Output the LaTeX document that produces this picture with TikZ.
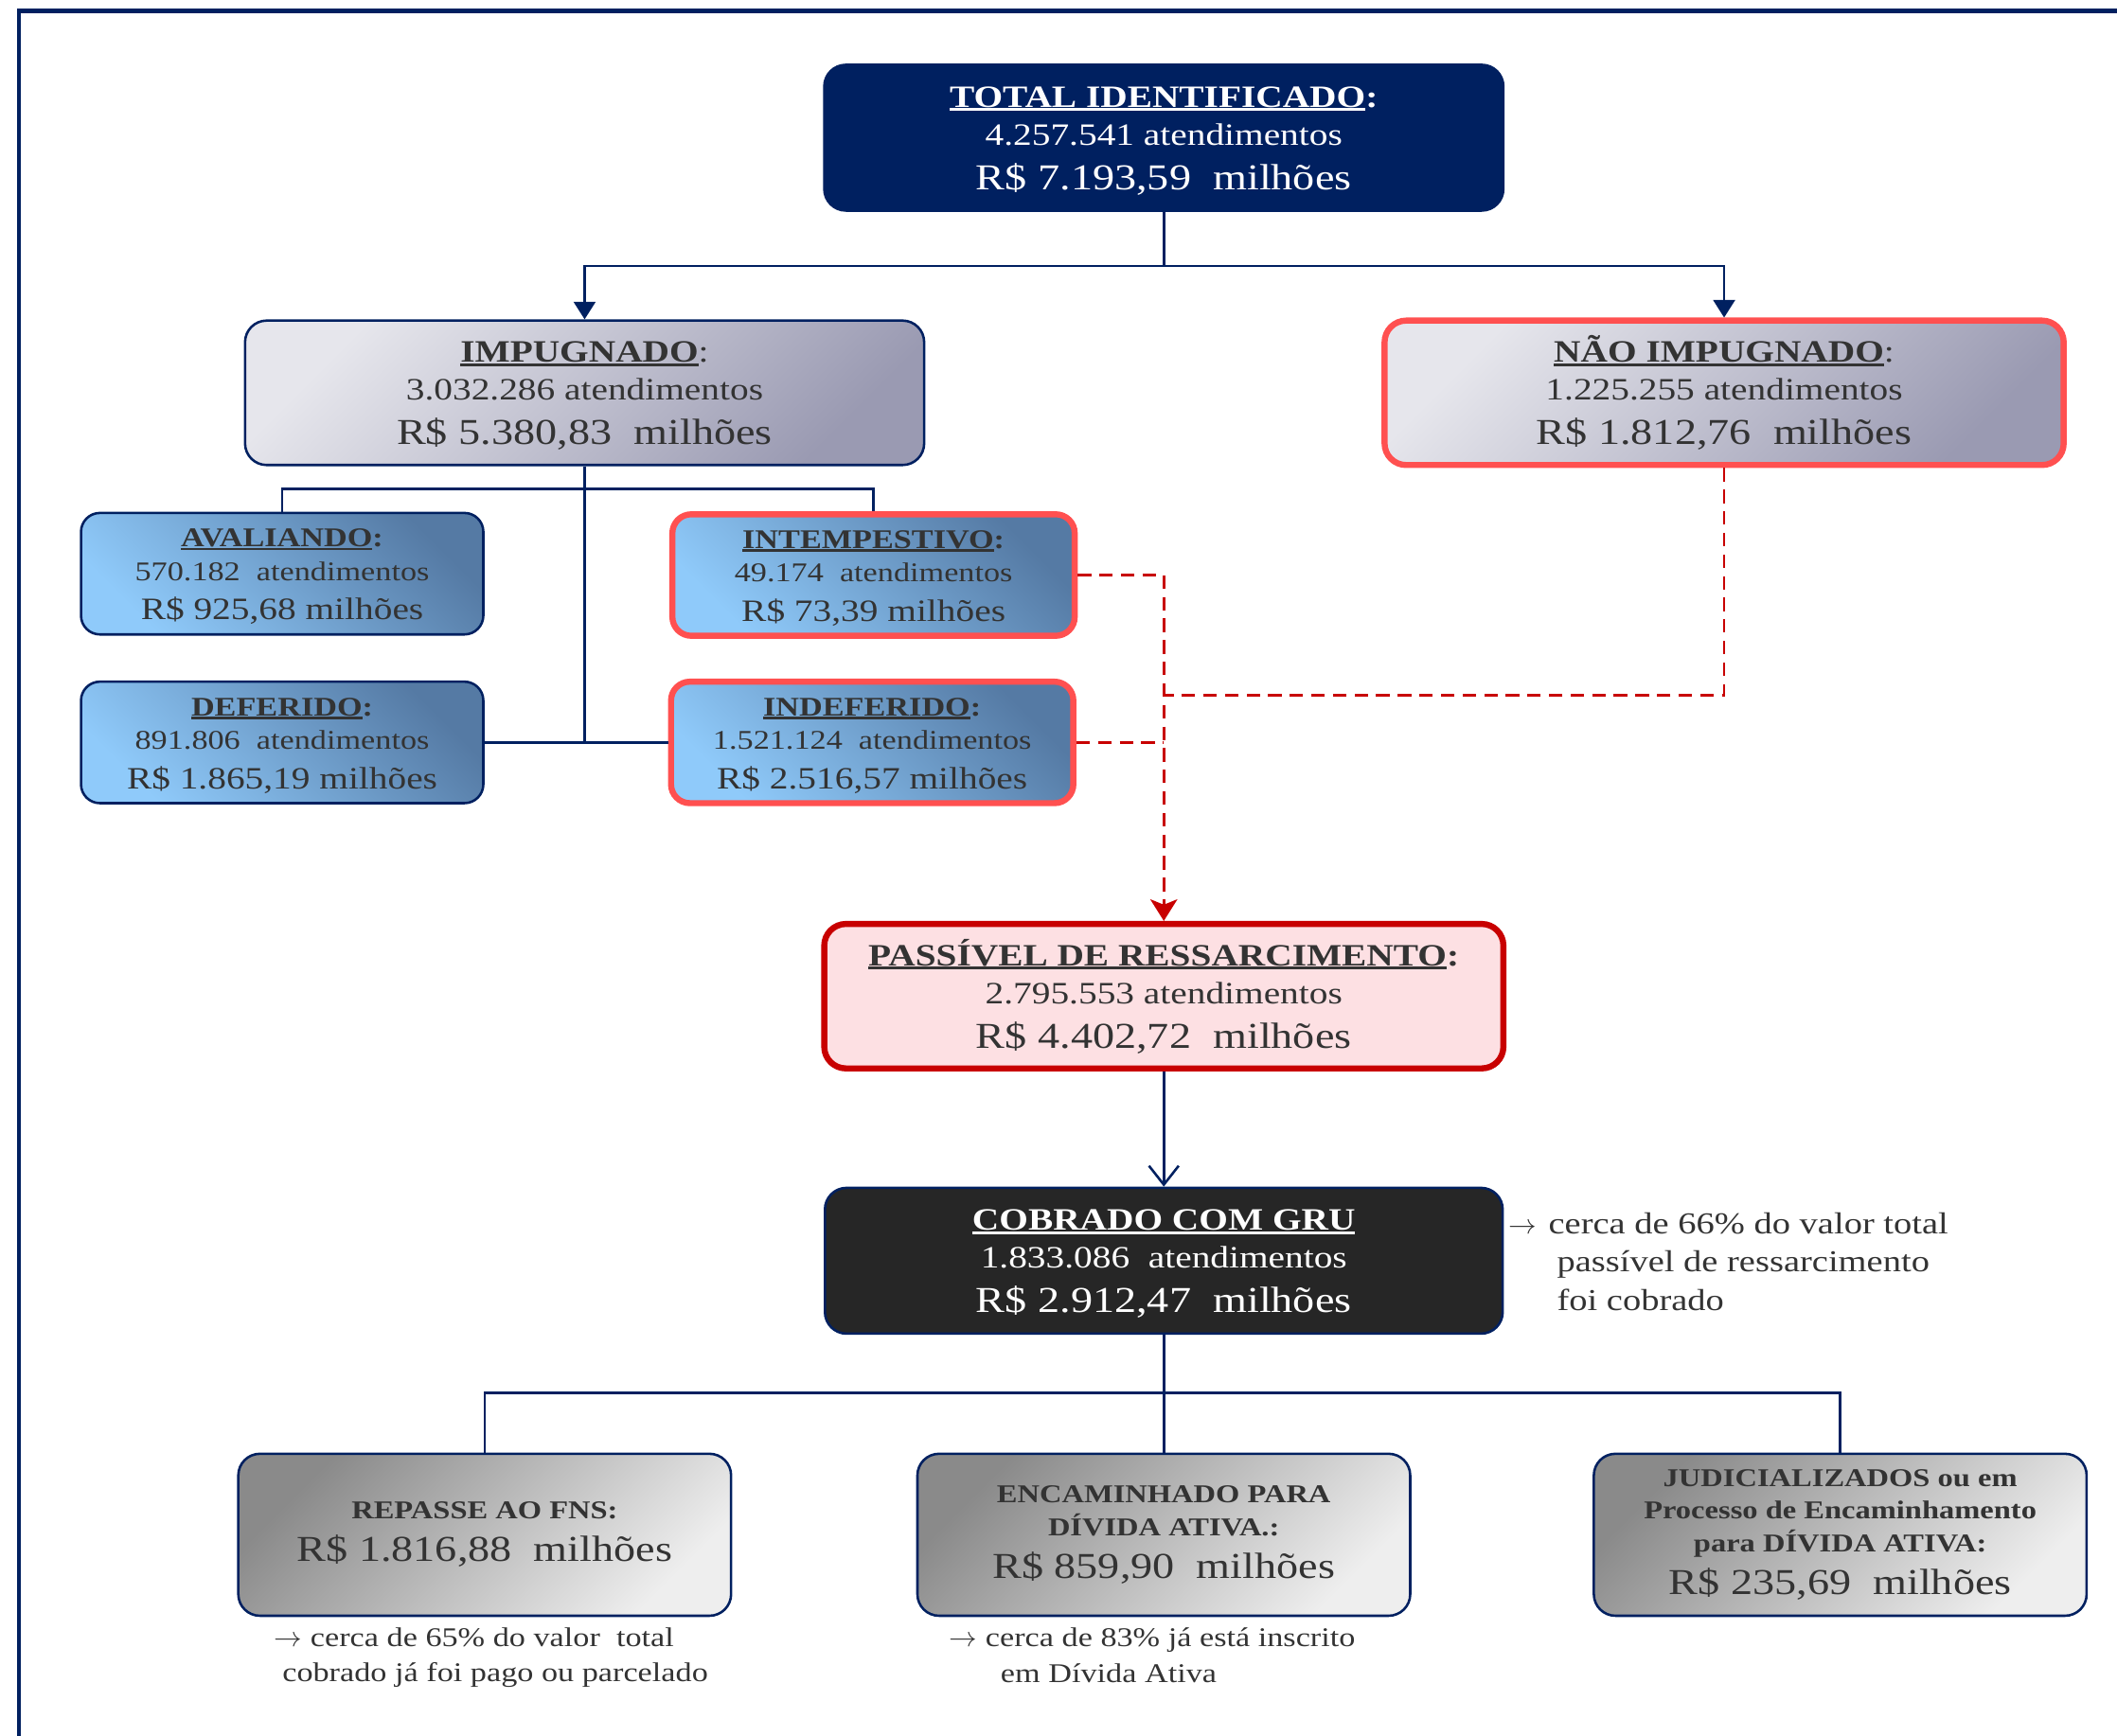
\documentclass[tikz,border=0pt]{standalone}
\usepackage{fontspec}
\setmainfont[FakeStretch=1.2]{Liberation Serif}
\usetikzlibrary{positioning,arrows.meta,shapes}
\definecolor{marinho}{HTML}{002060}
\definecolor{vermelho}{HTML}{FF5050}
\definecolor{vinho}{HTML}{C80000}
\definecolor{rosa}{HTML}{FDE0E3}
\definecolor{grafite}{HTML}{262626}
\definecolor{texto}{HTML}{333333}
\definecolor{pratac}{HTML}{E6E6EC}
\definecolor{pratae}{HTML}{9A9AB2}
\definecolor{azulc}{HTML}{8FCAFA}
\definecolor{azule}{HTML}{557AA4}
\definecolor{cinzac}{HTML}{EEEEEE}
\definecolor{cinzae}{HTML}{8A8A8A}
\newsavebox{\caixatit}
\newcommand{\sublinha}[1]{\sbox{\caixatit}{#1}\rlap{\rule[-0.12em]{\wd\caixatit}{0.085em}}\usebox{\caixatit}}
\newcommand{\vmaior}[1]{{\fontsize{27}{28}\selectfont #1}}
\newcommand{\vmedio}[1]{{\fontsize{23}{25}\selectfont #1}}
\newcommand{\seta}{$\rightarrow$}

\begin{document}
\begin{tikzpicture}[x=1pt,y=-1pt,
    caixa/.style={rounded corners=16pt,draw=marinho,line width=1.8pt,align=center,text=texto,inner sep=2pt},
    grande/.style={caixa,minimum width=503pt,minimum height=108pt,font=\fontsize{23}{28}\selectfont},
    pequena/.style={caixa,rounded corners=14pt,minimum width=298pt,minimum height=90pt,font=\fontsize{20}{25}\selectfont},
    base/.style={caixa,minimum width=365pt,minimum height=120pt,font=\fontsize{19}{24.5}\selectfont},
    prata/.style={top color=pratac,bottom color=pratae,shading angle=45},
    azul/.style={top color=azule,bottom color=azulc,shading angle=-45},
    cinza/.style={top color=cinzae,bottom color=cinzac,shading angle=45},
    alerta/.style={draw=vermelho,line width=4.5pt},
    conn/.style={draw=marinho,line width=1.8pt},
    tracejado/.style={draw=vinho,line width=2pt,dash pattern=on 10pt off 6pt},
    nota/.style={align=left,text=texto,inner sep=0pt}]

\useasboundingbox (0,0) rectangle (1568,1286);
\draw[marinho,line width=3pt] (14,1290) -- (14,8) -- (1572,8);

\node[grande,fill=marinho,text=white] (total) at (862,102)
  {\rule{0pt}{20pt}\textbf{\sublinha{TOTAL IDENTIFICADO}:}\\4.257.541 atendimentos\\[5pt]\vmaior{R\$ 7.193,59~~milhões}};

\node[grande,prata,minimum height=107pt] (imp) at (433,291)
  {\rule{0pt}{20pt}\textbf{\sublinha{IMPUGNADO}}:\\3.032.286 atendimentos\\[5pt]\vmaior{R\$ 5.380,83~~milhões}};
\node[grande,prata,alerta,minimum height=107pt] (nimp) at (1277,291)
  {\rule{0pt}{20pt}\textbf{\sublinha{NÃO IMPUGNADO}}:\\1.225.255 atendimentos\\[5pt]\vmaior{R\$ 1.812,76~~milhões}};

\node[pequena,azul] (aval) at (209,425)
  {\rule{0pt}{18pt}\textbf{\sublinha{AVALIANDO}:}\\570.182~~atendimentos\\[4pt]\vmedio{R\$ 925,68 milhões}};
\node[pequena,azul,alerta] (intemp) at (647,426)
  {\rule{0pt}{18pt}\textbf{\sublinha{INTEMPESTIVO}:}\\49.174~~atendimentos\\[4pt]\vmedio{R\$ 73,39 milhões}};
\node[pequena,azul] (defer) at (209,550)
  {\rule{0pt}{18pt}\textbf{\sublinha{DEFERIDO}:}\\891.806~~atendimentos\\[4pt]\vmedio{R\$ 1.865,19 milhões}};
\node[pequena,azul,alerta] (indef) at (646,550)
  {\rule{0pt}{18pt}\textbf{\sublinha{INDEFERIDO}:}\\1.521.124~~atendimentos\\[4pt]\vmedio{R\$ 2.516,57 milhões}};

\node[grande,fill=rosa,draw=vinho,line width=4.5pt,minimum height=107pt] (pass) at (862,738)
  {\rule{0pt}{20pt}\textbf{\sublinha{PASSÍVEL DE RESSARCIMENTO}:}\\2.795.553 atendimentos\\[5pt]\vmaior{R\$ 4.402,72~~milhões}};
\node[grande,fill=grafite,text=white,minimum width=502pt] (cobr) at (862,934)
  {\rule{0pt}{20pt}\textbf{\sublinha{COBRADO COM GRU}}\\1.833.086~~atendimentos\\[5pt]\vmaior{R\$ 2.912,47~~milhões}};

\node[base,cinza] (rep) at (359,1137)
  {\textbf{REPASSE AO FNS:}\\[7pt]\vmaior{R\$ 1.816,88~~milhões}};
\node[base,cinza] (enc) at (862,1137)
  {\textbf{ENCAMINHADO PARA}\\\textbf{DÍVIDA ATIVA.:}\\[7pt]\vmaior{R\$ 859,90~~milhões}};
\node[base,cinza] (jud) at (1363,1137)
  {\textbf{JUDICIALIZADOS ou em}\\\textbf{Processo de Encaminhamento}\\\textbf{para DÍVIDA ATIVA:}\\[7pt]\vmaior{R\$ 235,69~~milhões}};

\node[nota,font=\fontsize{22.5}{28.5}\selectfont,anchor=north west] (nota1) at (1117,898)
  {\seta\hspace{9pt}cerca de 66\% do valor total\\\hspace*{36pt}passível de ressarcimento\\\hspace*{36pt}foi cobrado};
\node[nota,font=\fontsize{20}{26}\selectfont,anchor=north west] (nota2) at (203,1206)
  {\seta{} cerca de 65\% do valor~~total\\\hspace*{6pt}cobrado já foi pago ou parcelado};
\node[nota,font=\fontsize{20}{26}\selectfont,anchor=north west] (nota3) at (703,1206)
  {\seta{} cerca de 83\% já está inscrito\\\hspace*{38pt}em Dívida Ativa};

\coordinate (ramo) at (862,197);
\draw[conn] (total) -- (ramo);
\draw[conn,-{Triangle[length=13pt,width=16pt]}] (ramo) -| (imp);
\draw[conn,-{Triangle[length=13pt,width=16pt]}] (ramo) -| (nimp);

\coordinate (ramo1) at (433,362);
\draw[conn] (imp.south) -- (imp.south |- defer.east);
\draw[conn] (aval.north) |- (ramo1) -| (intemp.north);
\draw[conn] (defer.east) -- (indef.west);

\coordinate (junta) at (862,515);
\draw[tracejado,-{Stealth[length=16pt,width=20pt,inset=4pt]}] (intemp.east) -| (pass.north);
\draw[tracejado] (indef.east) -- (indef.east -| pass.north);
\draw[tracejado] (nimp.south) |- (junta);

\draw[conn,-{Straight Barb[length=14pt,width=22pt]}] (pass) -- (cobr);

\coordinate (ramo2) at (862,1032);
\draw[conn] (cobr) -- (enc);
\draw[conn] (rep.north) |- (ramo2) -| (jud.north);
\end{tikzpicture}
\end{document}
